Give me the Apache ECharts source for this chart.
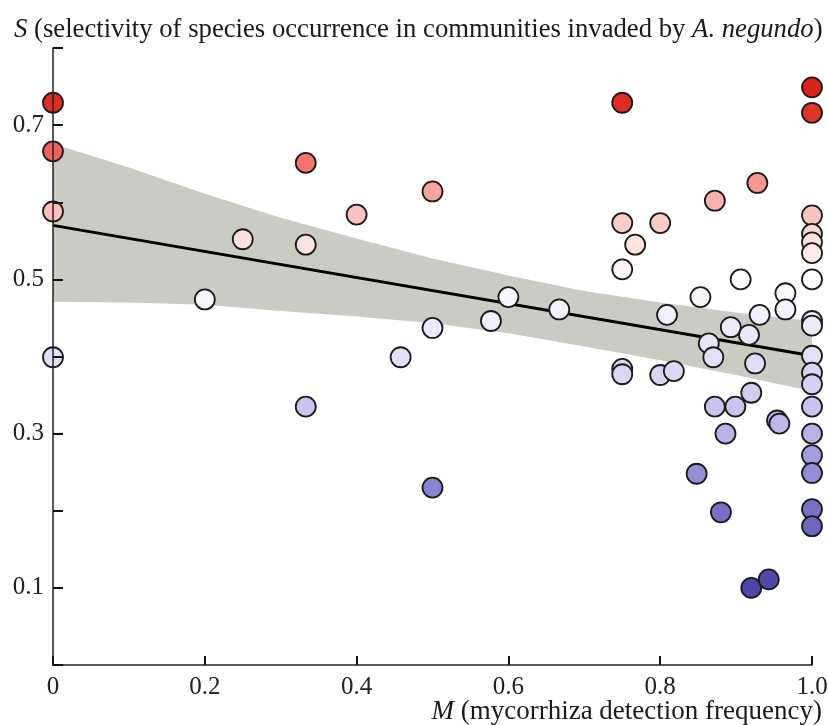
<!DOCTYPE html>
<html>
<head>
<meta charset="utf-8">
<script src="https://cdn.jsdelivr.net/npm/echarts@6/dist/echarts.min.js"></script>
<style>
html,body{margin:0;padding:0;background:#fff;}
#chart{width:828px;height:725px;}
</style>
</head>
<body>
<div id="chart"></div>
<script>
// ---- data ----
const pointsM = [
  0, 0, 0, 0,
  0.2, 0.25, 0.333, 0.333, 0.333,
  0.4, 0.458, 0.5, 0.5, 0.5,
  0.577, 0.6, 0.667,
  0.75, 0.75, 0.75, 0.75, 0.75,
  0.767, 0.8, 0.8, 0.818, 0.809,
  0.853, 0.864, 0.870, 0.872, 0.872, 0.848, 0.880, 0.886, 0.893, 0.899,
  0.906, 0.917, 0.920, 0.925, 0.928, 0.931, 0.920, 0.943, 0.954, 0.957, 0.965, 0.965,
  1, 1, 1, 1, 1, 1, 1, 1, 1, 1, 1, 1, 1, 1, 1, 1, 1, 1
];
const pointsS = [
  0.729, 0.666, 0.588, 0.399,
  0.474, 0.552, 0.651, 0.545, 0.335,
  0.584, 0.399, 0.614, 0.437, 0.230,
  0.446, 0.477, 0.461,
  0.729, 0.573, 0.513, 0.384, 0.377,
  0.545, 0.573, 0.376, 0.381, 0.454,
  0.477, 0.417, 0.399, 0.602, 0.335, 0.248, 0.198, 0.300, 0.438, 0.335,
  0.500, 0.428, 0.353, 0.391, 0.625, 0.454, 0.100, 0.111, 0.317, 0.313, 0.482, 0.461,
  0.749, 0.716, 0.583, 0.559, 0.548, 0.534, 0.500, 0.446, 0.440, 0.401, 0.379, 0.364, 0.335, 0.300, 0.272, 0.249, 0.202, 0.180
];
const fitM = [0, 1];
const fitS = [0.570, 0.401];
const bandM = [0, 0.1, 0.2, 0.3, 0.4, 0.5, 0.6, 0.7, 0.8, 0.9, 1.0];
const bandLower = [0.471, 0.470, 0.467, 0.459, 0.452, 0.443, 0.430, 0.413, 0.395, 0.376, 0.355];
const bandUpper = [0.676, 0.645, 0.611, 0.580, 0.553, 0.527, 0.505, 0.485, 0.470, 0.457, 0.446];
const xTickLabels = {0: '0', 0.2: '0.2', 0.4: '0.4', 0.6: '0.6', 0.8: '0.8', 1: '1.0'};
const yTickLabels = {0.1: '0.1', 0.3: '0.3', 0.5: '0.5', 0.7: '0.7'};
// colour scale stops for S from 0.10 to 0.75 in steps of 0.05
const colorStops = ['#4d46a8','#5f58b6','#7770c4','#968fd6','#b7b1e5','#d0ccf0','#e2dff6','#f0eefb',
                    '#fefefe','#fde0dd','#fab5b1','#f27470','#e23a32','#d9241b'];

const serif = '"Liberation Serif", "DejaVu Serif", serif';
const chart = echarts.init(document.getElementById('chart'));

const scatterData = pointsM.map((m, i) => [m, pointsS[i]]);
const fitData = fitM.map((m, i) => [m, fitS[i]]);

function lbl(map, v) {
  const k = Math.round(v * 10) / 10;
  return map[k] !== undefined ? map[k] : '';
}

function renderBand(params, api) {
  const pts = [];
  for (let i = 0; i < bandM.length; i++) pts.push(api.coord([bandM[i], bandUpper[i]]));
  for (let i = bandM.length - 1; i >= 0; i--) pts.push(api.coord([bandM[i], bandLower[i]]));
  return { type: 'polygon', shape: { points: pts }, style: { fill: '#cbcbc6', stroke: null } };
}

function ts(fs) {
  return {
    fontFamily: serif, fontSize: fs, fontWeight: 'normal', color: '#1a1a1a',
    rich: { i: { fontFamily: serif, fontSize: fs, fontStyle: 'italic', color: '#1a1a1a' } }
  };
}

chart.setOption({
  animation: false,
  backgroundColor: '#ffffff',
  title: [{
    text: '{i|S} (selectivity of species occurrence in communities invaded by {i|A. negundo})',
    left: 14, top: 16, padding: 0,
    textStyle: ts(26.7)
  }, {
    text: '{i|M} (mycorrhiza detection frequency)',
    right: 6, top: 698, padding: 0,
    textStyle: ts(27)
  }],
  grid: { left: 53, right: 16, top: 48, bottom: 60, containLabel: false, outerBoundsMode: 'none' },
  xAxis: {
    type: 'value', min: 0, max: 1, interval: 0.2,
    z: 5,
    axisLine: { show: true, onZero: false, lineStyle: { color: '#222', width: 1.5 } },
    axisTick: { show: true, inside: true, length: 9, lineStyle: { color: '#111', width: 2 } },
    axisLabel: { margin: 10, fontFamily: serif, fontSize: 25, color: '#222',
      formatter: v => lbl(xTickLabels, v) },
    splitLine: { show: false }
  },
  yAxis: {
    type: 'value', min: 0, max: 0.8, interval: 0.1,
    z: 5,
    axisLine: { show: true, onZero: false, lineStyle: { color: '#222', width: 1.5 } },
    axisTick: { show: true, inside: true, length: 10, lineStyle: { color: '#111', width: 2 } },
    axisLabel: { margin: 9, fontFamily: serif, fontSize: 25, color: '#222',
      formatter: v => lbl(yTickLabels, v) },
    splitLine: { show: false }
  },
  visualMap: {
    show: false, type: 'continuous', seriesIndex: 2, dimension: 1,
    min: 0.1, max: 0.75,
    inRange: { color: colorStops }
  },
  series: [{
    type: 'custom', renderItem: renderBand, data: [[0, 0]], silent: true, z: 1,
    clip: true
  }, {
    type: 'line', data: fitData, symbol: 'none',
    lineStyle: { color: '#000', width: 3 }, z: 2
  }, {
    type: 'scatter', data: scatterData, symbol: 'circle', symbolSize: 20,
    itemStyle: { borderColor: '#1a1a1a', borderWidth: 1.8, opacity: 1 },
    z: 3
  }]
});
</script>
</body>
</html>
